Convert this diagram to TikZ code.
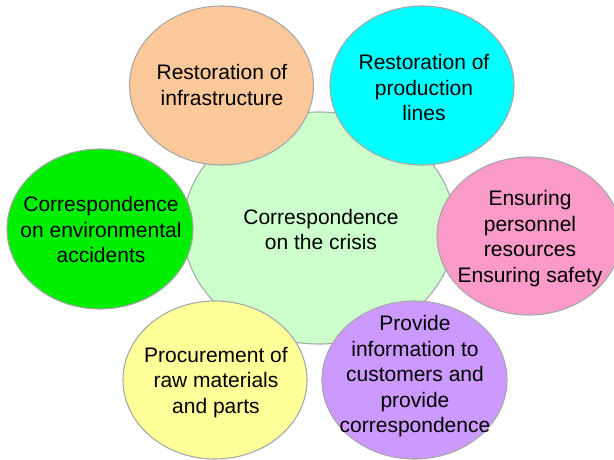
\documentclass[tikz,border=0pt]{standalone}
\usepackage{fontspec}
\setmainfont{Liberation Sans}
\usetikzlibrary{shapes.geometric}
\definecolor{bordergray}{HTML}{A8A8A8}
\definecolor{corefill}{HTML}{CCFFCC}
\definecolor{peach}{HTML}{FBC89A}
\definecolor{aqua}{HTML}{00FFFF}
\definecolor{lime}{HTML}{00EE00}
\definecolor{rose}{HTML}{F99AC9}
\definecolor{lemon}{HTML}{FFFF99}
\definecolor{lilac}{HTML}{CC99FF}
\begin{document}
\begin{tikzpicture}[x=1pt,y=-1pt,
  bub/.style={ellipse, draw=bordergray, line width=1.1pt, minimum width=184pt, minimum height=159pt, inner sep=0pt},
  txt/.style={align=center, font=\fontsize{21}{25.5}\selectfont, inner sep=0pt, text=black}]
\useasboundingbox (0,0) rectangle (614,459);
\fill[white] (0,0) rectangle (614,459);
% bubbles
\node[bub, fill=corefill, minimum width=272pt, minimum height=232pt] (core) at (319,228) {};
\node[bub, fill=peach] (infra) at (221.5,85.5) {};
\node[bub, fill=aqua] (prod) at (422,85.5) {};
\node[bub, fill=lime, minimum width=186pt, minimum height=160pt] (env) at (100,229) {};
\node[bub, fill=rose, minimum height=158pt] (pers) at (529,236) {};
\node[bub, fill=lemon, minimum height=158pt] (proc) at (215,380) {};
\node[bub, fill=lilac, minimum width=185pt, minimum height=158pt] (cust) at (414.5,380) {};
% texts
\node[txt] (tcore) at (321,229.5) {Correspondence\\on the crisis};
\node[txt] (tinfra) at (222,85) {Restoration of\\infrastructure};
\node[txt] (tprod) at (424,87.5) {Restoration of\\production\\lines};
\node[txt] (tenv) at (101,229.5) {Correspondence\\on environmental\\accidents};
\node[txt] (tpers) at (530,238.5) {Ensuring\\personnel\\resources\\Ensuring safety};
\node[txt] (tproc) at (216,382.5) {Procurement of\\raw materials\\and parts};
\node[txt] (tcust) at (415,376.5) {Provide\\information to\\customers and\\provide\\correspondence};
\end{tikzpicture}
\end{document}
